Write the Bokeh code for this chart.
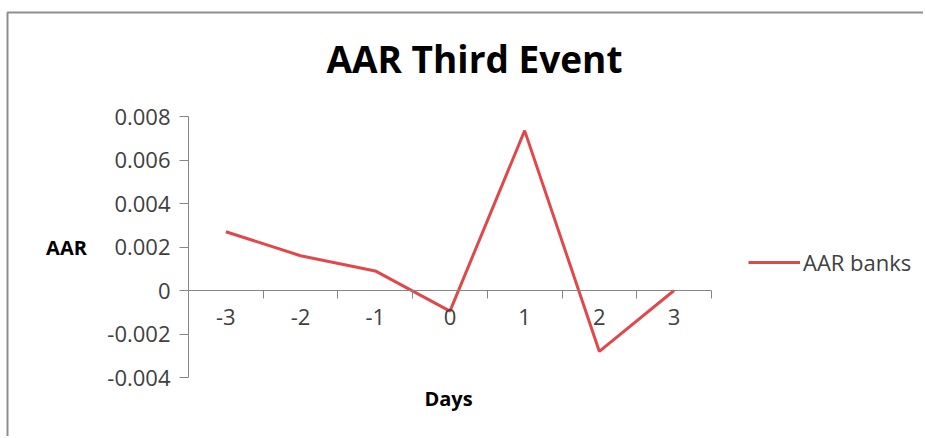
from bokeh.plotting import figure
from bokeh.models import (Range1d, LinearAxis, FixedTicker, CustomJSTickFormatter,
                          Label, Legend, LegendItem)
from bokeh.embed import file_html
from bokeh.resources import INLINE

days = [-3, -2, -1, 0, 1, 2, 3]
day_labels = ["-3", "-2", "-1", "0", "1", "2", "3"]
aar_banks = [0.0027, 0.0016, 0.0009, -0.00095, 0.00735, -0.0028, 0.0]
y_ticks = [-0.004, -0.002, 0.0, 0.002, 0.004, 0.006, 0.008]
title_text = "AAR Third Event"
series_name = "AAR banks"
x_title = "Days"
y_title = "AAR"

FONT = "Open Sans"
AXIS_GRAY = "#868686"
TEXT = "#404040"
RED = "#E0484B"

# canvas geometry (pixels)
W, H = 923, 436
AX_LEFT_PX = 188          # y axis position
CAT_PX = 74.7             # width of one category
Y_TOP_PX, Y_BOT_PX = 116, 377
Y_LO, Y_HI = y_ticks[0], y_ticks[-1]
PX_PER_UNIT = (Y_BOT_PX - Y_TOP_PX) / (Y_HI - Y_LO)
X_LO = days[0] - 0.5
X_HI = days[-1] + 0.5


def xd(px):
    return X_LO + (px - AX_LEFT_PX) / CAT_PX


def yd(py):
    return Y_HI - (py - Y_TOP_PX) / PX_PER_UNIT


p = figure(width=W, height=H, output_backend="svg", toolbar_location=None,
           x_range=Range1d(xd(0), xd(W)), y_range=Range1d(yd(H), yd(0)),
           min_border=0, x_axis_location=None, y_axis_location=None)
p.outline_line_color = None
p.grid.visible = False
p.background_fill_color = "white"
p.border_fill_color = "white"

# chart-area border (top and left edges visible)
p.line([xd(7), xd(7), xd(W + 10)], [yd(H + 10), yd(12), yd(12)],
       line_color="#8e8e8e", line_width=2)

# Y axis
yax = LinearAxis(ticker=FixedTicker(ticks=y_ticks), bounds=(Y_LO, Y_HI),
                 formatter=CustomJSTickFormatter(code="return tick == 0 ? '0' : tick.toFixed(3);"))
yax.fixed_location = X_LO
yax.axis_line_color = AXIS_GRAY
yax.major_tick_line_color = AXIS_GRAY
yax.major_tick_out = 9
yax.major_tick_in = 0
yax.minor_tick_line_color = None
yax.major_label_text_font = FONT
yax.major_label_text_font_size = "22px"
yax.major_label_text_color = TEXT
yax.major_label_standoff = 9
p.add_layout(yax, "left")

# X axis: boundary ticks
xb = LinearAxis(ticker=FixedTicker(ticks=[d - 0.5 for d in days] + [X_HI]),
                bounds=(X_LO, X_HI))
xb.fixed_location = 0
xb.axis_line_color = AXIS_GRAY
xb.major_tick_line_color = AXIS_GRAY
xb.major_tick_out = 8
xb.major_tick_in = 0
xb.minor_tick_line_color = None
xb.major_label_text_alpha = 0
xb.major_label_text_font_size = "1px"
p.add_layout(xb, "below")

# X axis: category labels
xl = LinearAxis(ticker=FixedTicker(ticks=days), bounds=(X_LO, X_HI),
                major_label_overrides={d: s for d, s in zip(days, day_labels)})
xl.fixed_location = 0
xl.axis_line_color = None
xl.major_tick_line_color = None
xl.major_tick_out = 8
xl.minor_tick_line_color = None
xl.major_label_text_font = FONT
xl.major_label_text_font_size = "22px"
xl.major_label_text_color = TEXT
xl.major_label_standoff = 10
p.add_layout(xl, "below")

r = p.line(days, aar_banks, line_color=RED, line_width=3)

p.add_layout(Label(x=xd(474), y=yd(58), text=title_text, text_font=FONT,
                   text_font_size="37px", text_font_style="bold", text_color="black",
                   text_align="center", text_baseline="middle"))
p.add_layout(Label(x=xd(448), y=yd(398), text=x_title, text_font=FONT,
                   text_font_size="20px", text_font_style="bold", text_color="black",
                   text_align="center", text_baseline="middle"))
p.add_layout(Label(x=xd(66), y=yd(247), text=y_title, text_font=FONT,
                   text_font_size="20px", text_font_style="bold", text_color="black",
                   text_align="center", text_baseline="middle"))

legend = Legend(items=[LegendItem(label=series_name, renderers=[r])],
                location=(748, H - 277), glyph_width=52, glyph_height=24,
                label_standoff=3, padding=0, margin=0, spacing=0,
                border_line_color=None, background_fill_alpha=0,
                label_text_font=FONT, label_text_font_size="22px",
                label_text_color=TEXT)
p.add_layout(legend, "center")

open("out.html", "w").write(file_html(p, INLINE))
